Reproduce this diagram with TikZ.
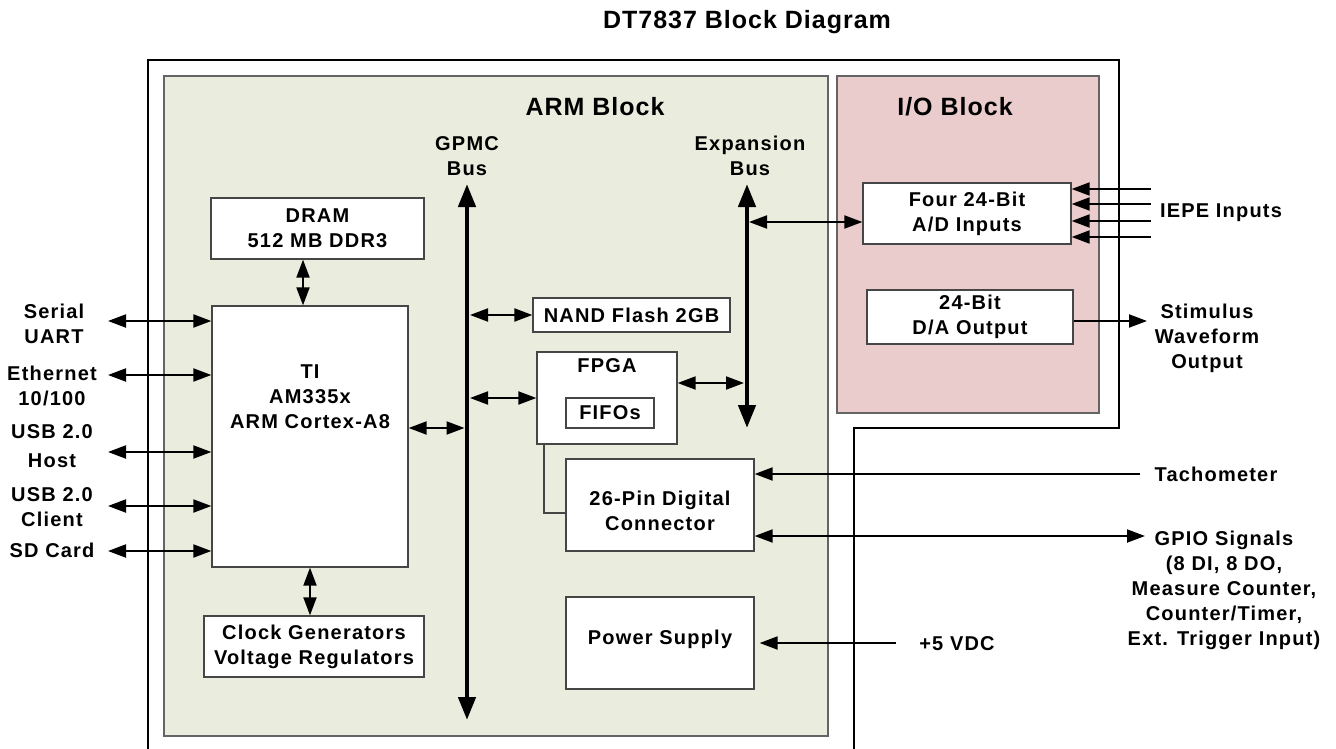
\documentclass[tikz,border=0pt]{standalone}
\usepackage{fontspec}
\newfontfamily\txtfont{Liberation Sans}[LetterSpace=6]
\newfontfamily\hdfont{Liberation Sans}[LetterSpace=4]
\usetikzlibrary{arrows.meta}
\definecolor{armfill}{RGB}{234,237,222}
\definecolor{iofill}{RGB}{235,204,204}
\definecolor{boxline}{RGB}{70,70,70}
\definecolor{blkline}{RGB}{100,100,100}
\tikzset{
  txt/.style={inner sep=0pt, align=center, font=\txtfont\bfseries\fontsize{20}{25}\selectfont},
  hd/.style={inner sep=0pt, align=center, font=\hdfont\bfseries\fontsize{25}{30}\selectfont},
  box/.style={txt, draw=boxline, line width=1.3pt, fill=white},
  frame/.style={draw=black, line width=1.4pt},
  armblk/.style={draw=blkline, line width=1.2pt, fill=armfill},
  ioblk/.style={draw=blkline, line width=1.2pt, fill=iofill},
  sarr/.style={-{Triangle[length=18pt,width=13pt]}, line width=2pt},
  darr/.style={{Triangle[length=18pt,width=13pt]}-{Triangle[length=18pt,width=13pt]}, line width=2pt},
  bus/.style={{Triangle[length=23pt,width=17pt]}-{Triangle[length=23pt,width=17pt]}, line width=4.5pt},
  conn/.style={draw=boxline, line width=1.3pt},
}
\begin{document}
\begin{tikzpicture}[x=1pt,y=-1pt]
\useasboundingbox (0,0) rectangle (1336,749);
% frame and blocks
\draw[frame] (148,749) -- (148,60) -- (1119,60) -- (1119,428) -- (854,428) -- (854,749);
\draw[armblk] (164,76) rectangle (828,736);
\draw[ioblk] (837,76) rectangle (1099,413);
% headers
\node[hd] (title) at (747,22) {DT7837 Block Diagram};
\node[hd] (armT) at (595,107) {ARM Block};
\node[hd] (ioT) at (955,107) {I/O Block};
\node[txt] (gpmcL) at (467,156) {GPMC\\Bus};
\node[txt] (expL) at (750,156) {Expansion\\Bus};
% buses
\coordinate (gT) at (467,184); \coordinate (gB) at (467,720);
\coordinate (eT) at (747,184); \coordinate (eB) at (747,428);
\draw[bus] (gT) -- (gB);
\draw[bus] (eT) -- (eB);
% boxes
\node[box, minimum width=213pt, minimum height=61pt] (dram) at (317.5,228.5) {DRAM\\512 MB DDR3};
\node[box, minimum width=196pt, minimum height=261pt] (ti) at (310,436.5) {};
\node[txt] (tiText) at (310,397) {TI\\AM335x\\ARM Cortex-A8};
\node[box, minimum width=220pt, minimum height=61pt] (clock) at (314,646.5) {Clock Generators\\Voltage Regulators};
\node[box, minimum width=197pt, minimum height=34pt] (nand) at (631.5,315) {NAND Flash 2GB};
\node[box, minimum width=140pt, minimum height=92pt] (fpga) at (607,398) {};
\node[txt] (fpgaT) at (607,366) {FPGA};
\node[box, minimum width=88pt, minimum height=30pt] (fifo) at (610,413) {FIFOs};
\node[box, minimum width=188pt, minimum height=92pt] (pin) at (660,505) {};
\node[txt] (pinText) at (660,511) {26-Pin Digital\\Connector};
\node[box, minimum width=188pt, minimum height=92pt] (psu) at (660,643) {};
\node[txt] (psuText) at (660,639) {Power Supply};
\node[box, minimum width=208pt, minimum height=61pt] (ad) at (967,213.5) {Four 24-Bit\\A/D Inputs};
\node[box, minimum width=206pt, minimum height=54pt] (da) at (970,317) {24-Bit\\D/A Output};
% left labels
\node[txt] (lS) at (54,324) {Serial\\UART};
\node[txt] (lE) at (52,386) {Ethernet\\10/100};
\node[txt] (lH) at (52,446) {USB 2.0\\[4pt]Host};
\node[txt] (lC) at (52,507) {USB 2.0\\Client};
\node[txt] (lD) at (52,550) {SD Card};
% right labels
\node[txt] (iepeL) at (1221,213) {IEPE Inputs};
\node[txt] (stimL) at (1207,338) {Stimulus\\Waveform\\Output};
\node[txt] (tachL) at (1216,474) {Tachometer};
\node[txt] (gpioL) at (1224,590) {GPIO Signals\\(8 DI, 8 DO,\\Measure Counter,\\Counter/Timer,\\Ext. Trigger Input)};
\node[txt] (pwrL) at (957,644) {+5 VDC};
% internal connectors
\coordinate (c303) at (303,0);
\draw[darr] (dram.south -| c303) -- (ti.north -| c303);
\draw[darr] (ti.south) -- (clock.north -| ti.south);
\coordinate (r428) at (0,428);
\draw[darr, shorten >=2.5pt] (ti.east |- r428) -- (gT |- r428);
\draw[darr, shorten <=3pt] (gT |- nand.west) -- (nand.west);
\draw[darr, shorten <=3pt] (gT |- fpga.west) -- (fpga.west);
\coordinate (r383) at (0,383);
\draw[darr, shorten >=3pt] (fpga.east |- r383) -- (eT |- r383);
\coordinate (r222) at (0,222);
\draw[darr, shorten <=2pt] (eT |- r222) -- (ad.west |- r222);
\coordinate (c544) at (544,513);
\draw[conn] (fpga.south -| c544) |- (pin.west |- c544);
% left external connectors
\coordinate (pS) at (108,321);
\coordinate (pE) at (108,375);
\coordinate (pH) at (108,452);
\coordinate (pC) at (108,506);
\coordinate (pD) at (108,551);
\foreach \p in {pS,pE,pH,pC,pD} {\draw[darr] (\p) -- (\p -| ti.west);}
% right external connectors
\foreach \yy [count=\i] in {189,204,221,237} {
  \coordinate (iepe\i) at (1151,\yy);
  \draw[sarr] (iepe\i) -- (iepe\i -| ad.east);
}
\coordinate (stimE) at (1147,321);
\draw[sarr] (da.east |- stimE) -- (stimE);
\coordinate (tachE) at (1140,474);
\draw[sarr] (tachE) -- (pin.east |- tachE);
\coordinate (gpioE) at (1145,536);
\draw[darr] (pin.east |- gpioE) -- (gpioE);
\coordinate (pwrE) at (896,643);
\draw[sarr, shorten >=5pt] (pwrE) -- (psu.east);
\end{tikzpicture}
\end{document}
